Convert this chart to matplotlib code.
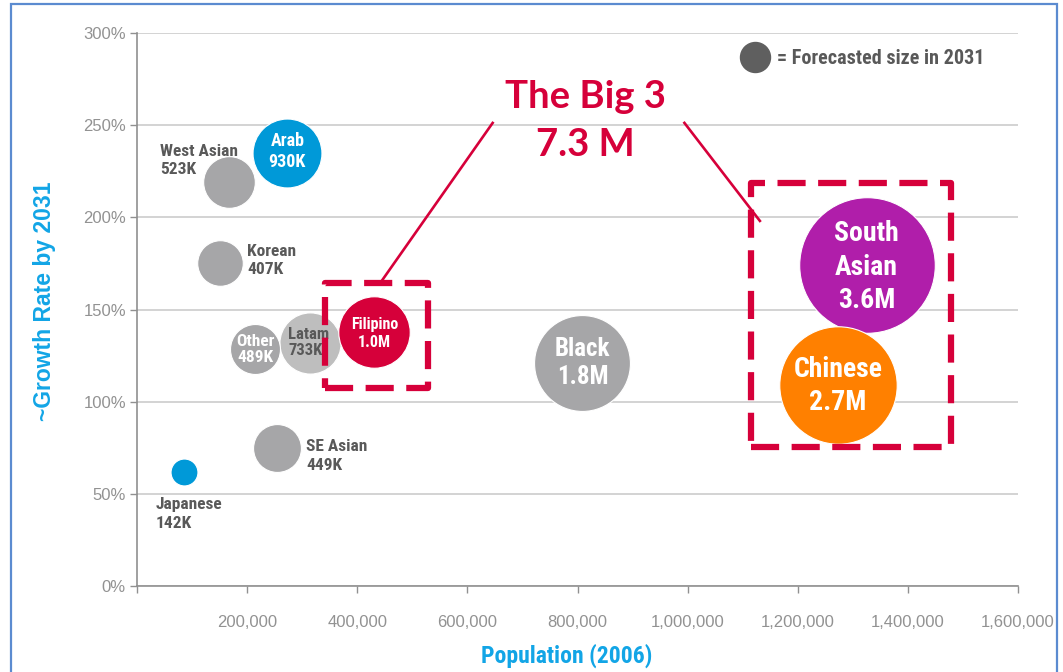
"""
plot.py - Canadian visible-minority growth bubble chart.

Population in 2006 against growth rate by 2031, bubble area scaled by the
forecast size in 2031. "The Big 3" callout groups Filipino, Chinese and
South Asian.
"""

import matplotlib
matplotlib.use('Agg')
import matplotlib.pyplot as plt
import matplotlib.patches as mpatches
from matplotlib import font_manager
from matplotlib.ticker import FuncFormatter
import numpy as np


# ── Data ──────────────────────────────────────────────────────────────────────

groups = ['South Asian', 'Chinese', 'Black', 'Latam', 'Filipino', 'Arab',
          'West Asian', 'Korean', 'Other', 'SE Asian', 'Japanese']
population_2006 = [1325000, 1273000, 809000, 315000, 431000, 273000,
                   167000, 151000, 215000, 255000, 85000]
growth_pct = [174, 109, 121, 132, 138, 235, 219, 175, 128.5, 75, 62]
forecast_k = [3600, 2700, 1800, 733, 1000, 930, 523, 407, 489, 449, 142]
size_labels = ['3.6M', '2.7M', '1.8M', '733K', '1.0M', '930K',
               '523K', '407K', '489K', '449K', '142K']

x_ticks = [0, 200000, 400000, 600000, 800000, 1000000, 1200000, 1400000, 1600000]
y_ticks = [0, 50, 100, 150, 200, 250, 300]


# ── Styling ───────────────────────────────────────────────────────────────────

GREY = '#A6A6A8'
BLUE = '#0099D8'
RED = '#D6003A'
PURPLE = '#B01EAA'
ORANGE = '#FF8000'
TEXT_DARK = '#595959'
AXIS_BLUE = '#12A5E6'

colours = {
    'South Asian': PURPLE, 'Chinese': ORANGE, 'Black': GREY,
    'Latam': '#BEBEBE', 'Filipino': RED, 'Arab': BLUE,
    'West Asian': GREY, 'Korean': GREY, 'Other': GREY,
    'SE Asian': GREY, 'Japanese': BLUE,
}

# label style: (text name, text colour, font size, offset px (dx, dy), line spacing)
label_style = {
    'South Asian': ('South\nAsian', 'white', 20, (0, -2), 1.3),
    'Chinese':     ('Chinese', 'white', 20, (0, -1), 1.3),
    'Black':       ('Black', 'white', 18, (0, 0), 1.2),
    'Latam':       ('Latam', TEXT_DARK, 12, (-22, 0), 1.1),
    'Filipino':    ('Filipino', 'white', 11.5, (0, -2), 1.3),
    'Arab':        ('Arab', 'white', 13, (0, 1), 1.2),
    'West Asian':  ('West Asian', TEXT_DARK, 12.5, (-69, 22), 1.3),
    'Korean':      ('Korean', TEXT_DARK, 12.5, (27, 3), 1.3),
    'Other':       ('Other', 'white', 12.5, (0, 0), 1.1),
    'SE Asian':    ('SE Asian', TEXT_DARK, 12.5, (29, -8), 1.3),
    'Japanese':    ('Japanese', TEXT_DARK, 12.5, (-28, -42), 1.3),
}

installed = {f.name for f in font_manager.fontManager.ttflist}
NARROW = ['Liberation Sans Narrow', 'Liberation Sans', 'DejaVu Sans']
if 'Liberation Sans Narrow' not in installed:
    NARROW = ['Roboto Condensed', 'Liberation Sans', 'DejaVu Sans']
BIG = ['Lato', 'Open Sans', 'DejaVu Sans']

plt.rcParams['font.family'] = ['Liberation Sans', 'DejaVu Sans']

PX_PER_SQRT_K = 1.13          # bubble radius in px per sqrt(thousands)
DPI = 100


def bubble_area(k):
    r_px = PX_PER_SQRT_K * np.sqrt(k)
    return (2 * r_px * 72 / DPI) ** 2


# ── Figure ────────────────────────────────────────────────────────────────────

fig = plt.figure(figsize=(10.63, 6.72), dpi=DPI)
ax = fig.add_axes([137 / 1063, 1 - 586 / 672, 881 / 1063, 553 / 672])

ax.set_xlim(0, 1600000)
ax.set_ylim(0, 300)
ax.set_xticks(x_ticks)
ax.set_yticks(y_ticks)
ax.xaxis.set_major_formatter(
    FuncFormatter(lambda v, _: '' if v == 0 else f'{int(v):,}'))
ax.yaxis.set_major_formatter(FuncFormatter(lambda v, _: f'{int(v)}%'))
ax.tick_params(axis='both', colors='#909090', labelcolor='#929292',
               labelsize=12, length=5, width=1)
ax.tick_params(axis='x', pad=16)
ax.tick_params(axis='y', pad=3)

for s in ('top', 'right'):
    ax.spines[s].set_visible(False)
for s in ('left', 'bottom'):
    ax.spines[s].set_color('#909090')
    ax.spines[s].set_linewidth(1.2)
ax.grid(axis='y', color='#C8C8C8', linewidth=1.1)
ax.set_axisbelow(True)

# bubbles
for i, g in enumerate(groups):
    ax.scatter(population_2006[i], growth_pct[i], s=bubble_area(forecast_k[i]),
               color=colours[g], edgecolor='white', linewidth=0.8,
               zorder=3 + i * 0.01)

# bubble labels
for i, g in enumerate(groups):
    name, col, fs, (dx, dy), ls = label_style[g]
    ha = 'center' if col == 'white' else 'left'
    ax.annotate(f'{name}\n{size_labels[i]}',
                (population_2006[i], growth_pct[i]),
                xytext=(dx, dy), textcoords='offset pixels',
                ha=ha, va='center', fontsize=fs, fontweight='bold',
                color=col, family=NARROW, linespacing=ls, zorder=5)

# "The Big 3" callout: dashed boxes and connector lines
dash = (4.5, 2.0)
for (x0, x1, y0, y1) in [(341800, 529100, 107.4, 164.4),
                         (1114500, 1478200, 75.4, 218.7)]:
    ax.add_patch(mpatches.Rectangle(
        (x0, y0), x1 - x0, y1 - y0, fill=False, edgecolor=RED,
        linewidth=4.5, linestyle=(0, dash), joinstyle='round',
        capstyle='butt', zorder=6, clip_on=False))

ax.plot([647300, 441800], [251.8, 164.4], color=RED, linewidth=1.9,
        zorder=6, solid_capstyle='butt')
ax.plot([992700, 1132700], [251.8, 197.5], color=RED, linewidth=1.9,
        zorder=6, solid_capstyle='butt')

ax.text(814500, 252.5, 'The Big 3\n7.3 M', ha='center', va='center',
        fontsize=27.5, fontweight='bold', color=RED, family=BIG,
        linespacing=1.5, zorder=7)

# size legend
ax.scatter([0.7015], [0.9566], s=(2 * 15 * 0.72) ** 2, color='#5F5F5F',
           transform=ax.transAxes, clip_on=False, zorder=7)
ax.text(0.727, 0.954, '= Forecasted size in 2031', transform=ax.transAxes,
        ha='left', va='center', fontsize=14.5, fontweight='bold',
        color=TEXT_DARK, family=NARROW)

# axis titles
fig.text(567 / 1063, 1 - 656 / 672, 'Population (2006)', ha='center',
         va='center', fontsize=17, fontweight='bold', color=AXIS_BLUE,
         family=NARROW)
fig.text(45 / 1063, 1 - 301 / 672, '~Growth Rate by 2031', ha='center',
         va='center', rotation=90, fontsize=16.5, fontweight='bold',
         color=AXIS_BLUE)

# slide frame
fig.add_artist(mpatches.Rectangle(
    (11 / 1063, -0.05), (1057 - 11) / 1063, 1.05 - 4 / 672,
    transform=fig.transFigure, fill=False, edgecolor='#5B8BD0',
    linewidth=1.6))

fig.savefig('out.png', dpi=DPI)
